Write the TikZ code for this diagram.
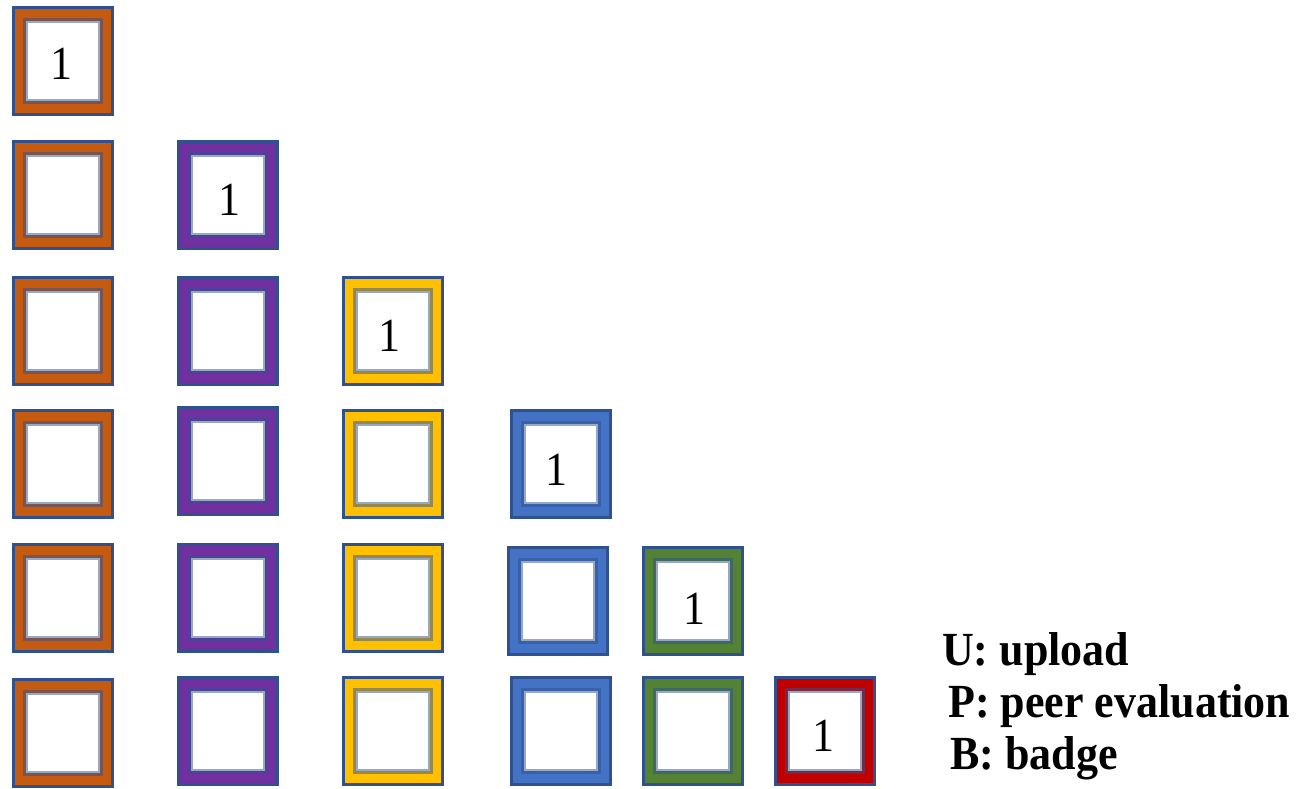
\documentclass[tikz,border=0pt]{standalone}
\usepackage{graphicx}
\usepackage{fontspec}
\setmainfont{Liberation Serif}
\definecolor{bordblue}{HTML}{2F528F}
\definecolor{cOr}{HTML}{C55A11}
\definecolor{cPu}{HTML}{7030A0}
\definecolor{cYe}{HTML}{FFC000}
\definecolor{cBl}{HTML}{4472C4}
\definecolor{cGr}{HTML}{548235}
\definecolor{cRe}{HTML}{C00000}
\tikzset{
  cell/.style={rectangle, draw=bordblue, line width=3pt, minimum width=99pt, minimum height=107pt, inner sep=0pt},
  core/.style={rectangle, fill=white, draw=bordblue, draw opacity=0.5, line width=5.5pt, minimum width=74.6pt, minimum height=80.6pt, inner sep=0pt},
  digit/.style={font=\fontsize{44}{48}\selectfont, inner sep=0pt},
  legend/.style={font=\fontsize{44}{48}\selectfont\bfseries, inner sep=0pt, anchor=base west}
}
\begin{document}
\begin{tikzpicture}[x=1pt,y=-1pt]
\useasboundingbox[fill=white] (0,0) rectangle (1299,788);
\foreach \n/\x/\y/\c in {
  b11/63/61/cOr,
  b21/63/195/cOr, b22/228/195/cPu,
  b31/63/331/cOr, b32/228/331/cPu, b33/393/331/cYe,
  b41/63/464/cOr, b42/228/461/cPu, b43/393/464/cYe, b44/561/464/cBl,
  b51/63/598/cOr, b52/228/598/cPu, b53/393/598/cYe, b54/558/601/cBl, b55/693/601/cGr,
  b61/63/733/cOr, b62/228/731/cPu, b63/393/731/cYe, b64/561/731/cBl, b65/693/731/cGr, b66/825/731/cRe}
{
  \node[cell, fill=\c] (\n) at (\x,\y) {};
  \node[core] (\n-in) at (\n) {};
}
\node[digit] (d1) at (61,64) {\scalebox{1}[1.08]{1}};
\node[digit] (d2) at (229,200) {\scalebox{1}[1.08]{1}};
\node[digit] (d3) at (389,336) {\scalebox{1}[1.08]{1}};
\node[digit] (d4) at (556,470) {\scalebox{1}[1.08]{1}};
\node[digit] (d5) at (694.5,609) {\scalebox{1}[1.08]{1}};
\node[digit] (d6) at (823,736) {\scalebox{1}[1.08]{1}};
\node[legend] (lu) at (942,665) {\scalebox{1}[1.08]{U: upload}};
\node[legend] (lp) at (948,717) {\scalebox{1}[1.08]{P: peer evaluation}};
\node[legend] (lb) at (950,769) {\scalebox{1}[1.08]{B: badge}};
\end{tikzpicture}
\end{document}
